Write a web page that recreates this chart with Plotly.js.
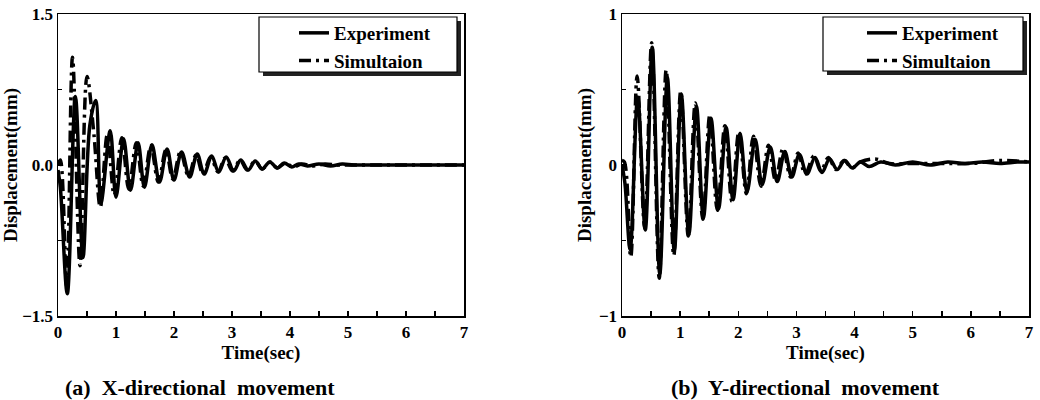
<!DOCTYPE html>
<html>
<head>
<meta charset="utf-8">
<script src="https://cdn.plot.ly/plotly-3.0.1.min.js"></script>
<style>
  html, body { margin: 0; padding: 0; background: #fff; }
  #chart { width: 1040px; height: 400px; }
</style>
</head>
<body>
<div id="chart"></div>
<script>
// ---------- (a) X-directional movement ----------
const xExpTime = [0, 0.04, 0.16, 0.30, 0.43, 0.55, 0.65, 0.74, 0.90, 1.00, 1.13, 1.25, 1.38, 1.49, 1.62, 1.75, 1.88, 2.00, 2.13, 2.27, 2.40, 2.52, 2.65, 2.77, 2.90, 3.03, 3.15, 3.28, 3.40, 3.52, 3.65, 3.78, 3.90, 4.03, 4.15, 4.30, 4.50, 4.70, 4.90, 5.10, 5.50, 6.00, 6.50, 7.00];
const xExpDisp = [-0.05, -0.22, -1.28, 0.68, -0.92, 0.40, 0.64, -0.38, 0.34, -0.32, 0.26, -0.25, 0.22, -0.22, 0.20, -0.17, 0.16, -0.15, 0.13, -0.12, 0.11, -0.09, 0.09, -0.07, 0.08, -0.06, 0.05, -0.05, 0.04, -0.04, 0.03, -0.03, 0.02, -0.02, 0.01, -0.01, 0.01, -0.01, 0.01, 0.00, 0.00, 0.00, 0.00, 0.00];
const xSimTime = [0, 0.04, 0.15, 0.25, 0.38, 0.50, 0.62, 0.73, 0.85, 0.97, 1.10, 1.22, 1.35, 1.47, 1.60, 1.73, 1.86, 1.98, 2.11, 2.25, 2.38, 2.50, 2.63, 2.76, 2.88, 3.01, 3.14, 3.26, 3.40, 3.52, 3.66, 3.78, 3.92, 4.05, 4.20, 4.40, 4.60, 4.80, 5.00, 5.50, 6.00, 6.50, 7.00];
const xSimDisp = [0.00, 0.05, -1.20, 1.07, -1.00, 0.88, 0.30, -0.42, 0.30, -0.30, 0.27, -0.24, 0.22, -0.21, 0.19, -0.17, 0.15, -0.14, 0.13, -0.11, 0.10, -0.09, 0.08, -0.07, 0.07, -0.06, 0.05, -0.05, 0.04, -0.04, 0.03, -0.03, 0.02, -0.02, 0.01, -0.01, 0.01, 0.00, 0.00, 0.00, 0.00, 0.00, 0.00];

// ---------- (b) Y-directional movement ----------
const yExpTime = [0, 0.05, 0.14, 0.27, 0.40, 0.52, 0.65, 0.78, 0.90, 1.02, 1.15, 1.28, 1.40, 1.53, 1.66, 1.79, 1.91, 2.03, 2.15, 2.29, 2.41, 2.55, 2.67, 2.80, 2.92, 3.05, 3.18, 3.32, 3.44, 3.57, 3.70, 3.83, 3.96, 4.10, 4.25, 4.45, 4.70, 5.00, 5.30, 5.60, 5.90, 6.20, 6.50, 6.80, 7.00];
const yExpDisp = [0.00, -0.12, -0.56, 0.45, -0.43, 0.78, -0.72, 0.58, -0.57, 0.47, -0.46, 0.39, -0.35, 0.31, -0.29, 0.25, -0.23, 0.21, -0.18, 0.17, -0.13, 0.12, -0.11, 0.09, -0.08, 0.07, -0.06, 0.05, -0.05, 0.04, -0.03, 0.03, -0.02, 0.02, -0.01, 0.02, 0.00, 0.02, 0.00, 0.02, 0.01, 0.02, 0.01, 0.02, 0.02];
const ySimTime = [0, 0.04, 0.15, 0.26, 0.39, 0.51, 0.64, 0.76, 0.89, 1.01, 1.14, 1.26, 1.39, 1.51, 1.64, 1.77, 1.89, 2.01, 2.14, 2.26, 2.39, 2.52, 2.64, 2.77, 2.90, 3.03, 3.15, 3.30, 3.42, 3.55, 3.68, 3.82, 3.95, 4.10, 4.35, 4.60, 5.00, 5.50, 6.00, 6.50, 7.00];
const ySimDisp = [0.03, 0.02, -0.61, 0.59, -0.42, 0.81, -0.75, 0.63, -0.60, 0.49, -0.47, 0.41, -0.36, 0.33, -0.30, 0.26, -0.24, 0.22, -0.19, 0.19, -0.14, 0.13, -0.10, 0.11, -0.08, 0.08, -0.06, 0.06, -0.04, 0.05, -0.03, 0.03, -0.02, 0.02, 0.04, 0.01, 0.01, 0.01, 0.01, 0.03, 0.02];

const seriesNames = ['Experiment', 'Simultaion'];
const captions = ['(a)  X-directional  movement', '(b)  Y-directional  movement'];
const xTitle = 'Time(sec)';
const yTitle = 'Displacement(mm)';

const FONT = 'Liberation Serif, Times New Roman, serif';
const W = 1040, H = 400;
const px = v => v / W;
const py = v => 1 - v / H;

const solid = { color: '#000', width: 3.5, shape: 'spline', smoothing: 1 };
const dashdot = { color: '#000', width: 3.5, shape: 'spline', smoothing: 1, dash: '12px,5px,3px,5px' };

const traces = [
  { x: xExpTime, y: xExpDisp, mode: 'lines', name: seriesNames[0], line: solid, xaxis: 'x', yaxis: 'y', legend: 'legend' },
  { x: xSimTime, y: xSimDisp, mode: 'lines', name: seriesNames[1], line: dashdot, xaxis: 'x', yaxis: 'y', legend: 'legend' },
  { x: yExpTime, y: yExpDisp, mode: 'lines', name: seriesNames[0], line: solid, xaxis: 'x2', yaxis: 'y2', legend: 'legend2' },
  { x: ySimTime, y: ySimDisp, mode: 'lines', name: seriesNames[1], line: dashdot, xaxis: 'x2', yaxis: 'y2', legend: 'legend2' }
];

const tickFont = { family: FONT, size: 17, color: '#000', weight: 'bold' };
const titleFont = { family: FONT, size: 19, color: '#000', weight: 'bold' };

function xAxis(domain, anchor) {
  return {
    domain: domain, anchor: anchor, range: [0, 7], dtick: 1, tick0: 0,
    ticks: 'inside', ticklen: 5, tickwidth: 1.5, tickcolor: '#000',
    minor: { dtick: 0.5, ticks: 'inside', ticklen: 5, tickwidth: 1.5, tickcolor: '#000' },
    showline: true, linecolor: '#000', linewidth: 1.5, mirror: true,
    showgrid: false, zeroline: false, tickfont: tickFont,
    title: { text: xTitle, font: titleFont, standoff: 2 }
  };
}
function yAxis(domain, anchor, range, dtick, minorDtick, fmt) {
  return {
    domain: domain, anchor: anchor, range: range, dtick: dtick, tick0: 0,
    ticks: 'inside', ticklen: 5, tickwidth: 1.5, tickcolor: '#000',
    minor: { dtick: minorDtick, ticks: 'inside', ticklen: 4, tickwidth: 1.5, tickcolor: '#000' },
    showline: true, linecolor: '#000', linewidth: 1.5, mirror: true,
    showgrid: false, zeroline: false, tickfont: tickFont, tickformat: fmt,
    title: { text: yTitle, font: titleFont, standoff: 2 }
  };
}

const yDom = [py(316), py(14)];
const legendCommon = {
  bgcolor: 'rgba(0,0,0,0)', borderwidth: 0, yanchor: 'top', xanchor: 'left',
  font: { family: FONT, size: 19, color: '#000', weight: 'bold' }, tracegroupgap: 0
};

function boxShapes(x0, y0, x1, y1) {
  return [
    { type: 'rect', xref: 'paper', yref: 'paper', x0: px(x0 + 4), x1: px(x1 + 4), y0: py(y1 + 4), y1: py(y0 + 4),
      fillcolor: '#222', line: { width: 0 }, layer: 'above' },
    { type: 'rect', xref: 'paper', yref: 'paper', x0: px(x0), x1: px(x1), y0: py(y1), y1: py(y0),
      fillcolor: '#fff', line: { color: '#000', width: 1.2 }, layer: 'above' }
  ];
}

const layout = {
  width: W, height: H,
  margin: { l: 0, r: 0, t: 0, b: 0 },
  paper_bgcolor: '#fff', plot_bgcolor: '#fff',
  showlegend: true,
  xaxis: xAxis([px(58), px(464)], 'y'),
  yaxis: yAxis(yDom, 'x', [-1.5, 1.5], 1.5, 0.75, '.1f'),
  xaxis2: xAxis([px(622), px(1029)], 'y2'),
  yaxis2: yAxis(yDom, 'x2', [-1, 1], 1, 0.5, 'd'),
  legend: Object.assign({}, legendCommon, { x: px(294), y: py(14) }),
  legend2: Object.assign({}, legendCommon, { x: px(862), y: py(14) }),
  shapes: [].concat(boxShapes(259, 17, 457, 72), boxShapes(823, 17, 1023, 71)),
  annotations: [
    { text: captions[0], xref: 'paper', yref: 'paper', x: px(200), y: py(387), xanchor: 'center', yanchor: 'middle',
      showarrow: false, font: { family: FONT, size: 22, color: '#000', weight: 'bold' } },
    { text: captions[1], xref: 'paper', yref: 'paper', x: px(805), y: py(387), xanchor: 'center', yanchor: 'middle',
      showarrow: false, font: { family: FONT, size: 22, color: '#000', weight: 'bold' } }
  ]
};

Plotly.newPlot('chart', traces, layout, { displayModeBar: false, staticPlot: true });
</script>
</body>
</html>
